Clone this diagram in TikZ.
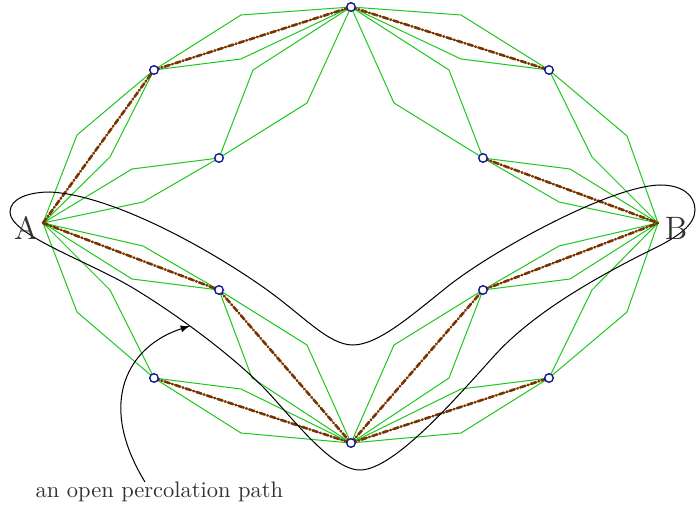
\documentclass[tikz,border=0pt]{standalone}
\usepackage{xcolor}
\usepackage{tkz-base}
\usepackage{tkz-euclide}

\definecolor{verde}{RGB}{30,200,30}
\definecolor{marron}{RGB}{122,52,0}
\definecolor{azul}{RGB}{20,20,150}

\begin{document}
\begin{tikzpicture}[x=0.01563cm, y=-0.01563cm,
    lente/.style={verde, line width=0.45pt},
    camino/.style={marron, line width=1.15pt, dash pattern=on 2.4pt off 1.1pt on 0.35pt off 1.1pt},
    contorno/.style={black, line width=0.45pt},
    rotulo/.style={text=black!80, font=\Large, inner sep=0pt}]
        % Paso 0: Fija el marco de la figura
        \useasboundingbox (0,0) rectangle (696,507);

        % Paso 1: Define los vertices de la red
        \tkzDefPoint(43,223){A}
        \tkzDefPoint(658,223){B}
        \tkzDefPoint(351,7){C}
        \tkzDefPoint(351,443){D}
        \tkzDefPoint(154,70){E}
        \tkzDefPoint(219,158){F}
        \tkzDefPoint(549,70){G}
        \tkzDefPoint(483,158){H}
        \tkzDefPoint(219,290){I}
        \tkzDefPoint(154,378){J}
        \tkzDefPoint(483,290){K}
        \tkzDefPoint(549,378){L}

        % Paso 2: Define los puntos de quiebre de cada arista
        \tkzDefPoint(77,135){ae1}   \tkzDefPoint(110,157){ae2}
        \tkzDefPoint(241,15){ec1}   \tkzDefPoint(241,59){ec2}
        \tkzDefPoint(132,169){af1}  \tkzDefPoint(143,202){af2}
        \tkzDefPoint(253,70){fc1}   \tkzDefPoint(307,103){fc2}
        \tkzDefPoint(461,15){cg1}   \tkzDefPoint(461,59){cg2}
        \tkzDefPoint(449,70){ch1}   \tkzDefPoint(394,103){ch2}
        \tkzDefPoint(627,136){gb1}  \tkzDefPoint(592,157){gb2}
        \tkzDefPoint(570,169){hb1}  \tkzDefPoint(559,202){hb2}
        \tkzDefPoint(143,246){ai1}  \tkzDefPoint(132,279){ai2}
        \tkzDefPoint(307,345){id1}  \tkzDefPoint(252,378){id2}
        \tkzDefPoint(110,290){aj1}  \tkzDefPoint(77,312){aj2}
        \tkzDefPoint(241,389){jd1}  \tkzDefPoint(241,433){jd2}
        \tkzDefPoint(394,345){dk1}  \tkzDefPoint(449,378){dk2}
        \tkzDefPoint(559,246){kb1}  \tkzDefPoint(570,279){kb2}
        \tkzDefPoint(461,389){dl1}  \tkzDefPoint(461,433){dl2}
        \tkzDefPoint(592,290){lb1}  \tkzDefPoint(627,312){lb2}

        % Paso 3: Dibuja las aristas abiertas como rombos verdes
        \tkzDrawPolygon[lente](A,ae1,E,ae2)
        \tkzDrawPolygon[lente](E,ec1,C,ec2)
        \tkzDrawPolygon[lente](A,af1,F,af2)
        \tkzDrawPolygon[lente](F,fc1,C,fc2)
        \tkzDrawPolygon[lente](C,cg1,G,cg2)
        \tkzDrawPolygon[lente](C,ch1,H,ch2)
        \tkzDrawPolygon[lente](G,gb1,B,gb2)
        \tkzDrawPolygon[lente](H,hb1,B,hb2)
        \tkzDrawPolygon[lente](A,ai1,I,ai2)
        \tkzDrawPolygon[lente](I,id1,D,id2)
        \tkzDrawPolygon[lente](A,aj1,J,aj2)
        \tkzDrawPolygon[lente](J,jd1,D,jd2)
        \tkzDrawPolygon[lente](D,dk1,K,dk2)
        \tkzDrawPolygon[lente](K,kb1,B,kb2)
        \tkzDrawPolygon[lente](D,dl1,L,dl2)
        \tkzDrawPolygon[lente](L,lb1,B,lb2)

        % Paso 4: Dibuja el camino abierto en marron
        \tkzDrawSegments[camino](A,E E,C C,G H,B A,I I,D J,D D,K K,B D,L)

        % Paso 5: Dibuja el contorno cerrado que rodea el camino
        \draw[contorno] (50,192)
            .. controls (110,195) and (203,245) .. (263,287)
            .. controls (303,315) and (328,345) .. (353,345)
            .. controls (378,345) and (412,315) .. (447,287)
            .. controls (492,251) and (610,186) .. (660,185)
            .. controls (682,185) and (695,195) .. (695,210)
            .. controls (695,225) and (677,237) .. (657,247)
            .. controls (602,274) and (535,311) .. (495,355)
            .. controls (460,393.5) and (395,470) .. (360,470)
            .. controls (330,470) and (288,412) .. (263,387)
            .. controls (228,352) and (173,312) .. (133,288)
            .. controls (88,261) and (10,235) .. (10,212)
            .. controls (10,198) and (30,192) .. (50,192) -- cycle;

        % Paso 6: Dibuja los vertices de la red
        \tkzDrawPoints[draw=azul, fill=white, line width=0.6pt, minimum size=3.8pt](C,D,E,F,G,H,I,J,K,L)

        % Paso 7: Rotula los extremos A y B
        \node[rotulo] (etqA) at (26,228) {A};
        \node[rotulo] (etqB) at (676,228) {B};

        % Paso 8: Escribe la leyenda y su flecha
        \node[anchor=base west, text=black!80, inner sep=0pt] (leyenda) at (35,497) {an open percolation path};
        \coordinate (origen) at (145,482);
        \coordinate (punta) at (190,326);
        \draw[contorno, -latex] (origen) .. controls (95,400) and (130,345) .. (punta);
    \end{tikzpicture}
\end{document}
